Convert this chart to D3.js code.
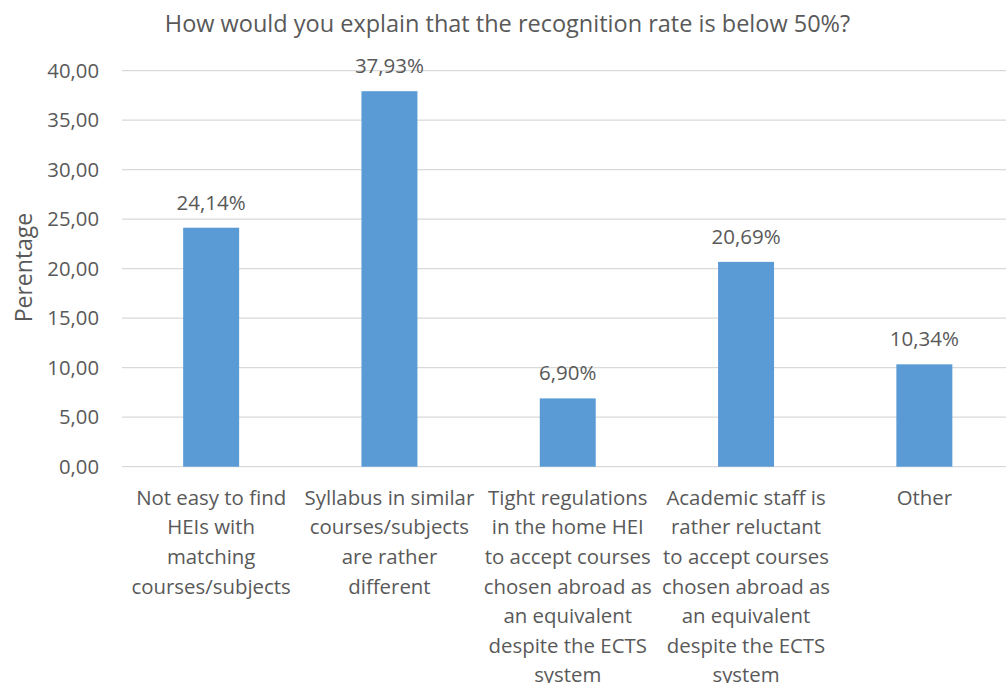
<!DOCTYPE html>
<html><head><meta charset="utf-8">
<script src="https://cdn.jsdelivr.net/npm/d3@7"></script>
<style>body{margin:0;background:#fff;} svg{display:block;} text{font-family:"Open Sans",sans-serif;fill:#595959;}</style>
</head><body>
<svg id="c" width="1006" height="683"></svg>
<script>
const title = "How would you explain that the recognition rate is below 50%?";
const yAxisTitle = "Perentage";
const categories = [
  "Not easy to find\nHEIs with\nmatching\ncourses/subjects",
  "Syllabus in similar\ncourses/subjects\nare rather\ndifferent",
  "Tight regulations\nin the home HEI\nto accept courses\nchosen abroad as\nan equivalent\ndespite the ECTS\nsystem",
  "Academic staff is\nrather reluctant\nto accept courses\nchosen abroad as\nan equivalent\ndespite the ECTS\nsystem",
  "Other"
];
const values = [24.14, 37.93, 6.90, 20.69, 10.34];
const yTicks = [0, 5, 10, 15, 20, 25, 30, 35, 40];

const svg = d3.select("#c");
const mLeft = 122, mRight = 1013.5, mTop = 70.7, mBottom = 466.7;
const x = d3.scaleBand().domain(categories).range([mLeft, mRight]).paddingInner(0.686).paddingOuter(0.343);
const y = d3.scaleLinear().domain([0, 40]).range([mBottom, mTop]);
const fmt = v => v.toFixed(2).replace(".", ",");

// gridlines
svg.append("g").selectAll("line").data(yTicks).join("line")
  .attr("x1", mLeft).attr("x2", 1006)
  .attr("y1", d => y(d)).attr("y2", d => y(d))
  .attr("stroke", "#d9d9d9").attr("stroke-width", 1.3);

// y axis labels
const yAxis = d3.axisLeft(y).tickValues(yTicks).tickFormat(fmt).tickSize(0).tickPadding(0);
const ya = svg.append("g").attr("transform", `translate(99,0)`).call(yAxis);
ya.select(".domain").remove();
ya.selectAll("text").style("font-size", "20.3px").style("font-family", "'Open Sans',sans-serif").attr("fill", "#595959");

// bars
svg.append("g").selectAll("rect").data(values).join("rect")
  .attr("x", (d, i) => x(categories[i]))
  .attr("width", x.bandwidth())
  .attr("y", d => y(d))
  .attr("height", d => y(0) - y(d))
  .attr("fill", "#5b9bd5");

// data labels
svg.append("g").selectAll("text").data(values).join("text")
  .attr("x", (d, i) => x(categories[i]) + x.bandwidth() / 2)
  .attr("y", d => y(d) - 18)
  .attr("text-anchor", "middle")
  .style("font-size", "20.5px")
  .text(d => fmt(d) + "%");

// x axis
const xa = svg.append("g").attr("transform", `translate(0,${mBottom})`)
  .call(d3.axisBottom(x).tickSize(0).tickFormat(""));
xa.select(".domain").remove();
svg.append("g").selectAll("text").data(categories).join("text")
  .attr("x", d => x(d) + x.bandwidth() / 2)
  .attr("y", mBottom + 38)
  .attr("text-anchor", "middle")
  .style("font-size", "20.4px")
  .each(function(d) {
    const t = d3.select(this);
    d.split("\n").forEach((ln, i) => {
      t.append("tspan").attr("x", x(d) + x.bandwidth() / 2).attr("dy", i === 0 ? 0 : 29.6).text(ln);
    });
  });

// title
svg.append("text").attr("x", 507.5).attr("y", 31.5).attr("text-anchor", "middle")
  .style("font-size", "23.5px").text(title);

// y axis title
svg.append("text").attr("transform", "translate(32,267.5) rotate(-90)").attr("text-anchor", "middle")
  .style("font-size", "23px").text(yAxisTitle);
</script>
</body></html>
